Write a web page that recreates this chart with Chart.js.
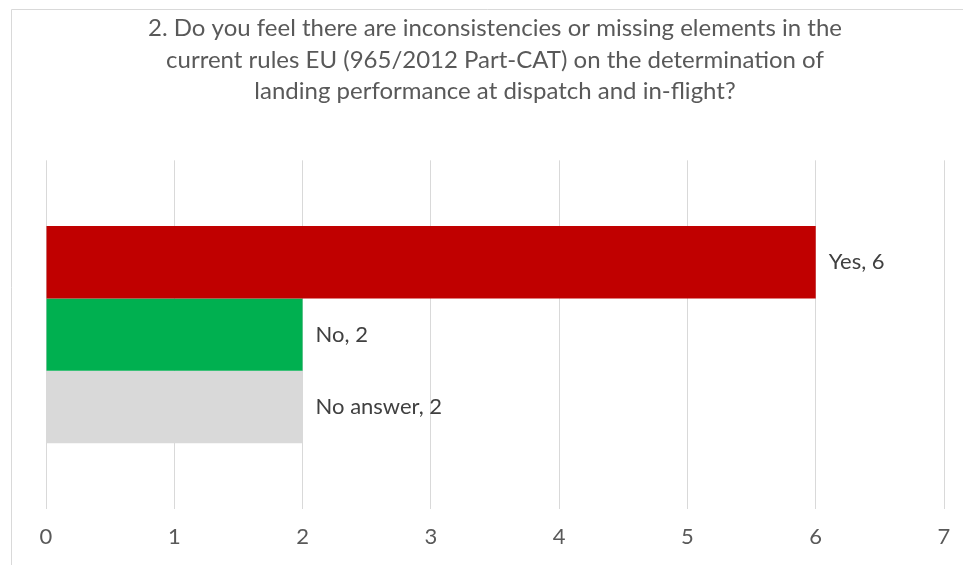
<!DOCTYPE html>
<html>
<head>
<meta charset="utf-8">
<script src="https://cdn.jsdelivr.net/npm/chart.js@4.4.1/dist/chart.umd.min.js"></script>
<style>
  html, body { margin: 0; padding: 0; background: #fff; }
  #wrap { width: 963px; height: 565px; position: relative; }
</style>
</head>
<body>
<div id="wrap"><canvas id="chart" width="963" height="565"></canvas></div>
<script>
// --- Data ---
const answers = ['Yes', 'No', 'No answer'];
const counts = [6, 2, 2];
const barColors = ['#C00000', '#00B050', '#D9D9D9'];
const category = ['Q2'];
const titleLines = [
    '2. Do you feel there are inconsistencies or missing elements in the',
    'current rules EU (965/2012 Part-CAT) on the determination of',
    'landing performance at dispatch and in-flight?'
];

const FONT = 'Lato, Carlito, Calibri, sans-serif';

// Light frame around the chart, as in the source sheet
const framePlugin = {
    id: 'frame',
    beforeDraw(chart) {
        const ctx = chart.ctx;
        ctx.save();
        ctx.strokeStyle = '#d9d9d9';
        ctx.lineWidth = 1;
        ctx.beginPath();
        ctx.moveTo(11.5, chart.height);
        ctx.lineTo(11.5, 9.5);
        ctx.lineTo(chart.width, 9.5);
        ctx.stroke();
        ctx.restore();
    }
};

// "Yes, 6" style labels at the end of each bar
const barLabelPlugin = {
    id: 'barLabels',
    afterDatasetsDraw(chart) {
        const ctx = chart.ctx;
        ctx.save();
        ctx.font = '22px ' + FONT;
        ctx.fillStyle = '#404040';
        ctx.textBaseline = 'middle';
        ctx.textAlign = 'left';
        chart.data.datasets.forEach((ds, i) => {
            const bar = chart.getDatasetMeta(i).data[0];
            ctx.fillText(`${ds.label}, ${ds.data[0]}`, bar.x + 13, bar.y);
        });
        ctx.restore();
    }
};

function initialiseChart() {
    const ctx = document.getElementById('chart').getContext('2d');
    return new Chart(ctx, {
        type: 'bar',
        data: {
            labels: category,
            datasets: answers.map((a, i) => ({
                label: a,
                data: [counts[i]],
                backgroundColor: barColors[i],
                borderWidth: 0,
                barPercentage: 1,
                categoryPercentage: 0.623
            }))
        },
        options: {
            indexAxis: 'y',
            responsive: false,
            animation: false,
            layout: { padding: { left: 46, right: 19, top: 0, bottom: 0 } },
            plugins: {
                legend: { display: false },
                tooltip: { enabled: false },
                title: {
                    display: true,
                    text: titleLines,
                    color: '#595959',
                    font: { family: FONT, size: 24, weight: 'normal', lineHeight: 1.31 },
                    padding: { top: 13, bottom: 53 }
                }
            },
            scales: {
                x: {
                    min: 0,
                    max: 7,
                    ticks: {
                        stepSize: 1,
                        color: '#595959',
                        font: { family: FONT, size: 22, lineHeight: 1 },
                        padding: 17,
                        maxRotation: 0
                    },
                    grid: { color: '#d9d9d9', drawTicks: false },
                    border: { display: false },
                    // the "7" label fits in the 19px margin; drop the extra tick padding on the sides
                    afterFit(scale) {
                        scale.paddingLeft = 0;
                        scale.paddingRight = 0;
                    }
                },
                y: { display: false }
            }
        },
        plugins: [framePlugin, barLabelPlugin]
    });
}

document.fonts.load('22px Lato').then(initialiseChart, initialiseChart);
</script>
</body>
</html>
